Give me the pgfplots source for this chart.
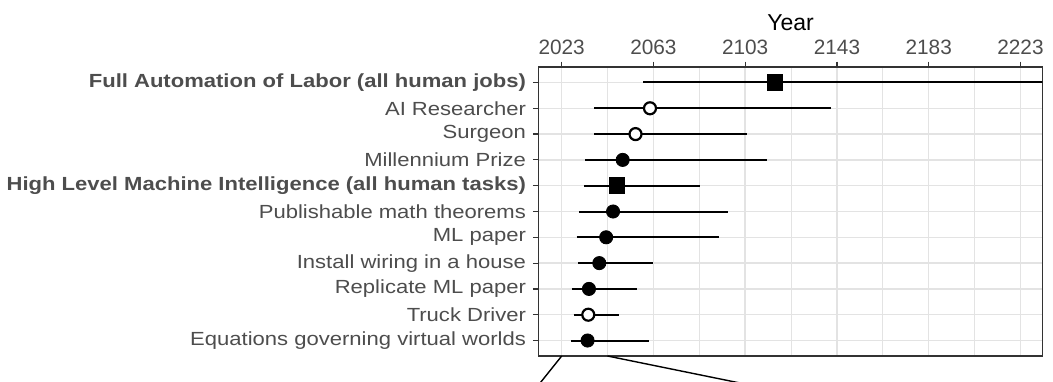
\documentclass[border=0pt]{standalone}
\usepackage{fontspec}
\setmainfont{Liberation Sans}
\newfontfamily\lbl[FakeStretch=1.16]{Liberation Sans}
\usepackage{pgfplots}
\pgfplotsset{compat=1.18}
\usepackage{pgfplotstable}
\definecolor{txt}{HTML}{4D4D4D}
\definecolor{gridc}{HTML}{E3E3E3}
\definecolor{frame}{HTML}{333333}
\pgfplotstableread{
y x
1 2034.3
3 2034.9
4 2039.4
5 2042.4
6 2045.4
8 2049.6
}\filled
\pgfplotstableread{
y x
2 2034.6
9 2055.2
10 2061.5
}\open
\pgfplotstableread{
y x
7 2047.0
11 2116.0
}\squares
\begin{document}
\begin{tikzpicture}
\useasboundingbox (-269.25pt,-12.5pt) rectangle (257.25pt,178pt);
\begin{axis}[
  at={(0,0)}, anchor=south west,
  scale only axis, width=252pt, height=144.5pt,
  xmin=2012.9, xmax=2232.6, ymin=0.4, ymax=11.6,
  xtick={2023,2063,2103,2143,2183,2223},
  minor xtick={2043,2083,2123,2163,2203},
  ytick={1,...,11},
  yticklabels={Equations governing virtual worlds, Truck Driver, Replicate ML paper, Install wiring in a house, ML paper, Publishable math theorems, \textbf{High Level Machine Intelligence (all human tasks)}, Millennium Prize, Surgeon, AI Researcher, \textbf{Full Automation of Labor (all human jobs)}},
  xticklabel pos=upper, xtick pos=upper, ytick pos=left,
  tick align=outside, major tick length=2.75pt, minor tick length=0pt,
  tick style={frame, line width=0.6pt},
  axis line style={frame, line width=0.6pt},
  grid=both,
  major grid style={gridc, line width=0.7pt},
  minor grid style={gridc, line width=0.4pt},
  /pgf/number format/assume math mode=true,
  /pgf/number format/1000 sep={},
  xticklabel style={font=\fontsize{10.4}{12}\selectfont, text=txt},
  yticklabel style={font=\lbl\fontsize{9.5}{11}\selectfont, text=txt},
  xlabel={Year},
  xlabel style={font=\fontsize{11.5}{13}\selectfont, text=black, yshift=-2.5pt},
  every axis plot/.append style={line cap=butt},
]
\addplot[black, line width=1pt, mark=none, forget plot] coordinates {(2027.2,1) (2060.9,1)};
\addplot[black, line width=1pt, mark=none, forget plot] coordinates {(2028.2,2) (2048.1,2)};
\addplot[black, line width=1pt, mark=none, forget plot] coordinates {(2027.5,3) (2055.8,3)};
\addplot[black, line width=1pt, mark=none, forget plot] coordinates {(2030.2,4) (2063.0,4)};
\addplot[black, line width=1pt, mark=none, forget plot] coordinates {(2029.5,5) (2091.4,5)};
\addplot[black, line width=1pt, mark=none, forget plot] coordinates {(2030.7,6) (2095.6,6)};
\addplot[black, line width=1pt, mark=none, forget plot] coordinates {(2032.9,7) (2083.4,7)};
\addplot[black, line width=1pt, mark=none, forget plot] coordinates {(2033.2,8) (2112.5,8)};
\addplot[black, line width=1pt, mark=none, forget plot] coordinates {(2037.1,9) (2103.9,9)};
\addplot[black, line width=1pt, mark=none, forget plot] coordinates {(2037.1,10) (2140.6,10)};
\addplot[black, line width=1pt, mark=none, forget plot] coordinates {(2058.6,11) (2300.0,11)};
\addplot[only marks, mark=*, mark size=3.3pt, black, mark options={fill=black}]
  table[x=x, y=y]{\filled};
\addplot[only marks, mark=*, mark size=3pt, black, mark options={fill=white, line width=1.1pt}]
  table[x=x, y=y]{\open};
\addplot[only marks, mark=square*, mark size=3.9pt, black, mark options={fill=black}]
  table[x=x, y=y]{\squares};
\end{axis}
\draw[black, line width=0.7pt] (11.6pt,0) -- (-0.4pt,-15pt);
\draw[black, line width=0.7pt] (34.5pt,0) -- (108.1pt,-15pt);
\end{tikzpicture}
\end{document}
